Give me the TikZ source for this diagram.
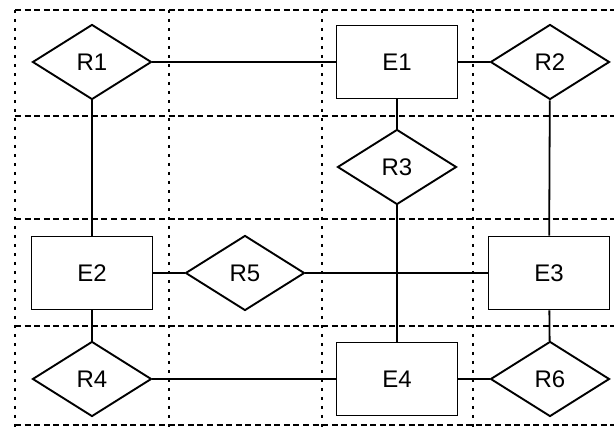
\documentclass[tikz,border=0pt]{standalone}
\usepackage{fontspec}
\setmainfont{Liberation Sans}
\usetikzlibrary{shapes.geometric}

\begin{document}
\begin{tikzpicture}[x=1pt,y=-1pt,font=\fontsize{24}{28}\selectfont,
  entity/.style={draw,line width=1.9pt,minimum width=121pt,minimum height=73pt,inner sep=0pt},
  relation/.style={draw,diamond,line width=1.9pt,minimum width=119pt,minimum height=75pt,inner sep=0pt},
  link/.style={line width=1.8pt},
  gridh/.style={line width=1.6pt,dash pattern=on 6pt off 3.6pt},
  gridv/.style={line width=1.6pt,dash pattern=on 3pt off 6pt}]
 \useasboundingbox (0,0) rectangle (614,427);
 % dashed layout grid
 \foreach \y in {10,116,219,326,425}
   {\draw[gridh] (15,\y) -- (620,\y);}
 \foreach \x in {15,169,322,473}
   {\draw[gridv] (\x,10) -- (\x,432);}
 % entities
 \node[entity] (e1) at (397,62) {E1};
 \node[entity] (e2) at (92,273) {E2};
 \node[entity] (e3) at (549,273) {E3};
 \node[entity] (e4) at (397,379) {E4};
 % relationships
 \node[relation] (r1) at (92,62) {R1};
 \node[relation] (r2) at (550,62) {R2};
 \node[relation] (r3) at (397,167) {R3};
 \node[relation] (r4) at (92,379) {R4};
 \node[relation] (r5) at (245,273) {R5};
 \node[relation] (r6) at (550,379) {R6};
 % links
 \draw[link] (r1) -- (e1);
 \draw[link] (e1) -- (r2);
 \draw[link] (r1) -- (e2);
 \draw[link] (e1) -- (r3);
 \draw[link] (r2) -- (e3);
 \draw[link] (e2) -- (r5);
 \draw[link] (r5) -- (e3);
 \draw[link] (r3) -- (e4);
 \draw[link] (e2) -- (r4);
 \draw[link] (r4) -- (e4);
 \draw[link] (e4) -- (r6);
 \draw[link] (e3) -- (r6);
\end{tikzpicture}
\end{document}
